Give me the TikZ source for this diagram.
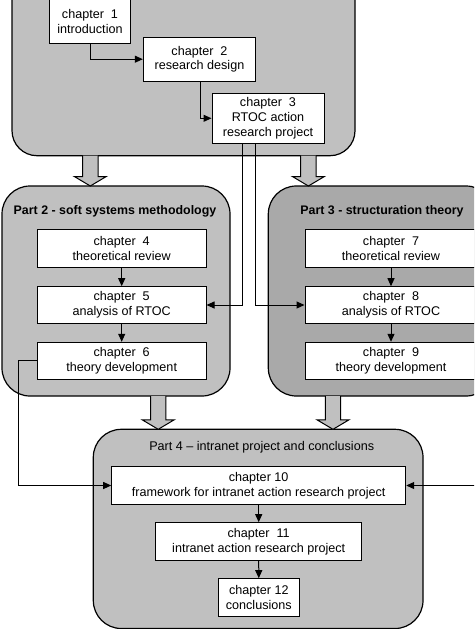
\documentclass[tikz,border=0pt]{standalone}
\usepackage{fontspec}
\setmainfont{Liberation Sans}
\usetikzlibrary{arrows.meta}
\definecolor{lightg}{HTML}{C0C0C0}
\definecolor{darkg}{HTML}{A9A9A9}
\newcommand\hollowarrow[3]{%
  \filldraw[fill=lightg,draw=black,line width=1pt,line join=miter]
    ({#1-7.7},#2) -- ({#1-7.7},{#3-9.5}) -- ({#1-16},{#3-9.5}) -- (#1,#3)
    -- ({#1+16},{#3-9.5}) -- ({#1+7.7},{#3-9.5}) -- ({#1+7.7},#2);}
\tikzset{
  chap/.style={draw=black,fill=white,line width=1pt,inner sep=0pt,align=center,
    font=\fontsize{12.6}{14.8}\selectfont},
  part/.style={draw=black,line width=1.2pt,rounded corners=28pt},
  ptitle/.style={inner sep=0pt,font=\fontsize{12.6}{14.8}\selectfont},
  conn/.style={line width=1pt,-{Triangle[length=8pt,width=7pt]}},
  plain/.style={line width=1pt}
}
\begin{document}
\begin{tikzpicture}[x=1pt,y=-1pt]
\useasboundingbox (0,0) rectangle (474,629);
\clip (0,0) rectangle (474,629);
\fill[white] (0,0) rectangle (474,629);
% part boxes
\filldraw[part,fill=lightg,rounded corners=25pt] (12,-40) rectangle (355,155.7);
\filldraw[part,fill=lightg] (2,186) rectangle (230,396);
\filldraw[part,fill=darkg] (268.3,186) rectangle (494,396);
\filldraw[part,fill=lightg] (93.3,429.3) rectangle (423,628.5);
% hollow arrows
\hollowarrow{90.3}{155.7}{186}
\hollowarrow{308.4}{155.7}{186}
\hollowarrow{158.2}{396}{429.3}
\hollowarrow{333}{396}{429.3}
% titles
\node[ptitle,font=\fontsize{12.4}{14.8}\selectfont\bfseries] (t2) at (115,211.7) {Part 2 - soft systems methodology};
\node[ptitle,font=\fontsize{12.4}{14.8}\selectfont\bfseries] (t3) at (382,211.7) {Part 3 - structuration theory};
\node[ptitle] (t4) at (261.7,447.7) {Part 4 -- intranet project and conclusions};
% chapters
\node[chap,minimum width=81.4pt,minimum height=44pt] (c1) at (90,21.5) {chapter~ 1\\introduction};
\node[chap,minimum width=112.4pt,minimum height=43.7pt] (c2) at (199.5,59.2) {chapter~ 2\\research design};
\node[chap,minimum width=112pt,minimum height=50pt] (c3) at (268,118.3) {chapter~ 3\\RTOC action\\research project};
\node[chap,minimum width=168.7pt,minimum height=37.7pt] (c4) at (121.7,248.8) {chapter~ 4\\theoretical review};
\node[chap,minimum width=168.7pt,minimum height=36.6pt] (c5) at (121.7,305) {chapter~ 5\\analysis of RTOC};
\node[chap,minimum width=168.7pt,minimum height=37pt] (c6) at (121.7,360.8) {chapter~ 6\\theory development};
\node[chap,minimum width=172pt,minimum height=37.7pt] (c7) at (391,248.8) {chapter~ 7\\theoretical review};
\node[chap,minimum width=172pt,minimum height=36.6pt] (c8) at (391,305) {chapter~ 8\\analysis of RTOC};
\node[chap,minimum width=172pt,minimum height=37pt] (c9) at (391,360.8) {chapter~ 9\\theory development};
\node[chap,minimum width=294pt,minimum height=37.6pt] (c10) at (258.7,485.5) {chapter 10\\framework for intranet action research project};
\node[chap,minimum width=206pt,minimum height=38pt] (c11) at (258.7,541.7) {chapter~ 11\\intranet action research project};
\node[chap,minimum width=81pt,minimum height=38pt] (c12) at (258.8,597.7) {chapter 12\\conclusions};
% connectors
\draw[conn] (c1.south) |- (c2.west);
\draw[conn] ([xshift=0.5pt]c2.south) |- (c3.west);
\coordinate (l1) at (242.7,305);
\coordinate (l2) at (255.3,305);
\draw[conn] (c3.south -| l1) -- (l1) -- (c5.east);
\draw[conn] (c3.south -| l2) -- (l2) -- (c8.west);
\draw[conn] (c4) -- (c5);
\draw[conn] (c5) -- (c6);
\draw[conn] (c7.south) -- (c8.north);
\draw[conn] (c8.south) -- (c9.north);
\coordinate (lw) at (18.3,360.8);
\draw[conn] (c6.west) -- (lw) |- (c10.west);
\coordinate (re) at (476,485.5);
\draw[conn] (re) -- (c10.east);
\draw[conn] (c10) -- (c11);
\draw[conn] (c11) -- (c12);
\end{tikzpicture}
\end{document}
